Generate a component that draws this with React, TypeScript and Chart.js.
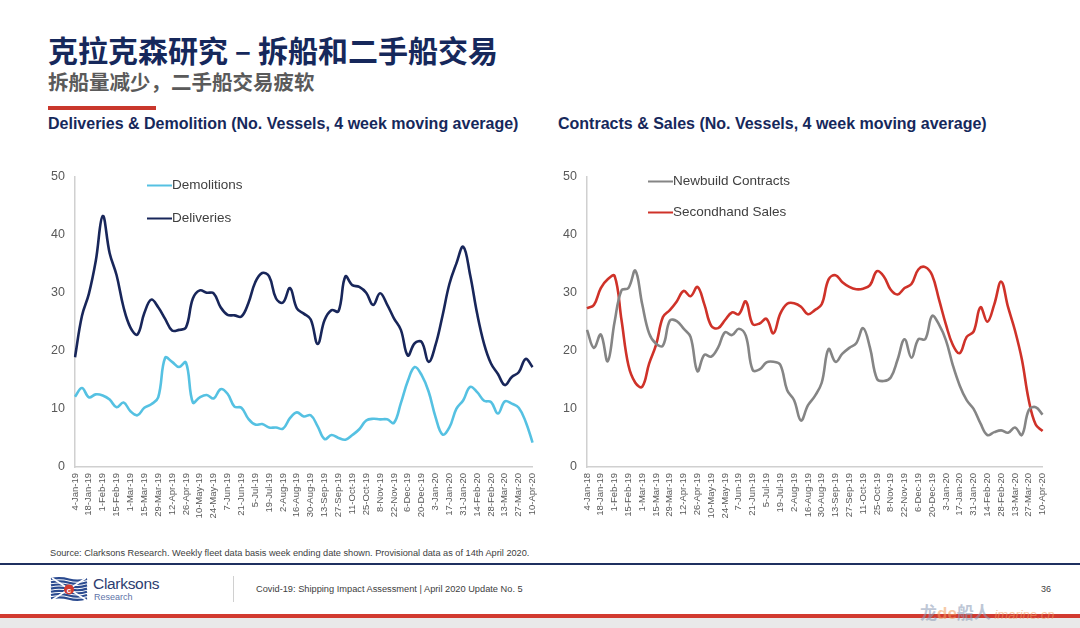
import { useEffect, useRef } from "react";
import { Chart, registerables } from "chart.js";

Chart.register(...registerables);

const LATIN = "'Liberation Sans', Arial, Helvetica, sans-serif";
const CJK = "'Noto Sans CJK SC', 'Noto Sans', sans-serif";

// Week-ending dates (weekly, Friday)
const weeks = [
  "4-Jan-19", "11-Jan-19", "18-Jan-19", "25-Jan-19", "1-Feb-19", "8-Feb-19", "15-Feb-19", "22-Feb-19",
  "1-Mar-19", "8-Mar-19", "15-Mar-19", "22-Mar-19", "29-Mar-19", "5-Apr-19", "12-Apr-19", "19-Apr-19",
  "26-Apr-19", "3-May-19", "10-May-19", "17-May-19", "24-May-19", "31-May-19", "7-Jun-19", "14-Jun-19",
  "21-Jun-19", "28-Jun-19", "5-Jul-19", "12-Jul-19", "19-Jul-19", "26-Jul-19", "2-Aug-19", "9-Aug-19",
  "16-Aug-19", "23-Aug-19", "30-Aug-19", "6-Sep-19", "13-Sep-19", "20-Sep-19", "27-Sep-19", "4-Oct-19",
  "11-Oct-19", "18-Oct-19", "25-Oct-19", "1-Nov-19", "8-Nov-19", "15-Nov-19", "22-Nov-19", "29-Nov-19",
  "6-Dec-19", "13-Dec-19", "20-Dec-19", "27-Dec-19", "3-Jan-20", "10-Jan-20", "17-Jan-20", "24-Jan-20",
  "31-Jan-20", "7-Feb-20", "14-Feb-20", "21-Feb-20", "28-Feb-20", "6-Mar-20", "13-Mar-20", "20-Mar-20",
  "27-Mar-20", "3-Apr-20", "10-Apr-20",
];
// The contracts chart carries its own first label
const contractWeeks = ["4-Jan-18", ...weeks.slice(1)];

const demolitions = [
  12.1, 13.6, 12.0, 12.5, 12.3, 11.6, 10.3, 11.1, 9.6, 8.9,
  10.2, 10.8, 12.0, 18.8, 18.1, 17.2, 18.0, 11.1, 12.0, 12.4,
  11.8, 13.4, 12.6, 10.4, 10.2, 8.3, 7.3, 7.4, 6.8, 6.8,
  6.6, 8.4, 9.4, 8.7, 8.9, 7.0, 4.8, 5.5, 5.0, 4.7,
  5.5, 6.5, 8.0, 8.3, 8.2, 8.2, 7.6, 11.0, 14.8, 17.2,
  15.8, 13.0, 8.6, 5.6, 6.8, 10.0, 11.5, 13.8, 12.9, 11.4,
  11.2, 9.2, 11.3, 10.9, 10.2, 7.8, 4.2,
];

const deliveries = [
  18.9, 26.0, 29.8, 35.5, 43.2, 36.8, 33.0, 27.5, 24.0, 22.8,
  26.5, 28.8, 27.5, 25.5, 23.5, 23.6, 24.0, 29.0, 30.4, 30.0,
  29.9, 27.5, 26.2, 26.1, 25.9, 28.2, 31.8, 33.4, 32.8, 29.0,
  28.3, 30.8, 27.3, 26.4, 25.4, 21.2, 25.3, 27.0, 26.8, 32.8,
  31.3, 31.0, 30.0, 27.9, 29.9, 28.0, 25.6, 23.6, 19.2, 21.3,
  21.5, 18.1, 21.0, 26.0, 31.5, 35.0, 37.9, 33.0, 26.4, 21.2,
  17.8, 16.0, 14.1, 15.5, 16.3, 18.6, 17.2,
];

const newbuildContracts = [
  23.6, 20.5, 22.8, 18.2, 25.0, 30.4, 30.8, 33.8, 28.0, 23.0,
  21.2, 20.9, 25.2, 25.1, 23.8, 22.4, 16.5, 19.3, 19.0, 20.6,
  23.2, 22.7, 23.8, 22.6, 16.7, 16.8, 18.0, 18.1, 17.6, 13.2,
  11.5, 8.0, 10.6, 12.2, 14.5, 20.3, 18.1, 19.5, 20.5, 21.3,
  23.9, 20.5, 15.2, 14.8, 15.4, 18.5, 22.0, 18.8, 22.0, 22.0,
  26.0, 24.5, 21.8, 17.5, 14.0, 11.5, 10.0, 7.5, 5.5, 6.0,
  6.3, 5.9, 6.8, 5.5, 9.8, 10.3, 9.0,
];

const secondhandSales = [
  27.3, 27.9, 30.8, 32.3, 32.9, 25.3, 17.5, 14.5, 13.8, 17.8,
  21.0, 25.8, 27.0, 28.5, 30.3, 29.4, 31.0, 28.0, 24.3, 23.9,
  25.3, 26.6, 26.3, 28.5, 24.6, 24.7, 25.5, 23.0, 26.4, 28.1,
  28.2, 27.6, 26.3, 27.0, 28.0, 32.3, 33.0, 31.8, 31.0, 30.6,
  30.7, 31.3, 33.7, 32.8, 30.5, 29.7, 30.8, 31.5, 34.0, 34.4,
  33.0, 28.8, 24.5, 21.0, 19.6, 22.4, 23.3, 27.5, 25.0, 28.0,
  31.9, 27.5, 23.5, 18.5, 11.5, 7.3, 6.2,
];

const yMax = 50;
const yStep = 10;

type Series = { label: string; data: number[]; color: string };

// Legend drawn inside the plot area, one row per series
const insideLegend = {
  id: "insideLegend",
  afterDraw(chart: any, _args: any, opts: any) {
    const { ctx, chartArea } = chart;
    ctx.save();
    ctx.font = `13.5px ${LATIN}`;
    ctx.textBaseline = "middle";
    ctx.textAlign = "left";
    (opts.rows || []).forEach((row: any) => {
      const ds = chart.data.datasets[row.index];
      const x = chartArea.left + opts.x;
      const y = chartArea.top + row.dy;
      ctx.strokeStyle = ds.borderColor;
      ctx.lineWidth = 2;
      ctx.beginPath();
      ctx.moveTo(x, y);
      ctx.lineTo(x + 25, y);
      ctx.stroke();
      ctx.fillStyle = "#404040";
      ctx.fillText(ds.label, x + 25, y);
    });
    ctx.restore();
  },
};

const CANVAS_TOP = 159;
const CANVAS_HEIGHT = 367;

function WeeklyChart(props: {
  labels: string[];
  series: Series[];
  legendX: number;
  legendRows: { index: number; dy: number }[];
  left: number;
  width: number;
  yAxisWidth: number;
}) {
  const ref = useRef<HTMLCanvasElement | null>(null);

  useEffect(() => {
    if (!ref.current) return;
    const chart = new Chart(ref.current, {
      type: "line",
      data: {
        labels: props.labels,
        datasets: props.series.map((s) => ({
          label: s.label,
          data: s.data,
          borderColor: s.color,
          backgroundColor: s.color,
          borderWidth: 2.6,
          pointRadius: 0,
          tension: 0.4,
          fill: false,
        })),
      },
      options: {
        animation: false,
        responsive: false,
        maintainAspectRatio: false,
        layout: { padding: { top: 3, right: 12, bottom: 0, left: 0 } },
        plugins: {
          legend: { display: false },
          tooltip: { enabled: false },
          insideLegend: { x: props.legendX, rows: props.legendRows },
        } as any,
        scales: {
          x: {
            grid: { display: true, drawOnChartArea: false, drawTicks: false },
            border: { display: true, color: "#d0d0d0", width: 1.5 },
            ticks: {
              autoSkip: false,
              minRotation: 90,
              maxRotation: 90,
              padding: 6,
              color: "#595959",
              font: { family: LATIN, size: 9.5 },
              callback: function (this: any, _v: any, i: number) {
                return i % 2 === 0 ? props.labels[i] : "";
              },
            },
            afterFit: (s: any) => {
              s.height = 59;
            },
          },
          y: {
            min: 0,
            max: yMax,
            grid: { display: true, drawOnChartArea: false, drawTicks: false },
            border: { display: true, color: "#d0d0d0", width: 1.5 },
            ticks: {
              stepSize: yStep,
              padding: 10,
              color: "#595959",
              font: { family: LATIN, size: 12.5 },
            },
            afterFit: (s: any) => {
              s.width = props.yAxisWidth;
            },
          },
        },
      },
      plugins: [insideLegend],
    });
    return () => chart.destroy();
  }, []);

  return (
    <canvas
      ref={ref}
      width={props.width}
      height={CANVAS_HEIGHT}
      style={{ position: "absolute", left: props.left, top: CANVAS_TOP, width: props.width, height: CANVAS_HEIGHT }}
    />
  );
}

function Logo() {
  return (
    <svg width="38" height="24" viewBox="0 0 38 24" style={{ position: "absolute", left: 50, top: 577 }}>
      {[0, 1, 2, 3, 4, 5, 6].map((i) => (
        <path
          key={i}
          d={`M1 ${2 + i * 3.2} Q10 ${0 + i * 3.2} 19 ${2.5 + i * 3.2} T37 ${2 + i * 3.2}`}
          stroke="#2a4a8f"
          strokeWidth="2.2"
          fill="none"
        />
      ))}
      <path d="M2 1 L36 23 M36 1 L2 23" stroke="#ffffff" strokeWidth="1.6" />
      <circle cx="19" cy="12.5" r="5" fill="#d23a2f" />
      <text x="19" y="15.5" fontSize="8" fontFamily={LATIN} fill="#ffffff" textAnchor="middle" fontWeight="bold">
        c
      </text>
    </svg>
  );
}

export default function App() {
  const text = (style: React.CSSProperties, content: string) => (
    <div style={{ position: "absolute", whiteSpace: "nowrap", ...style }}>{content}</div>
  );

  return (
    <div
      style={{
        position: "absolute",
        left: 0,
        top: 0,
        width: 1080,
        height: 628,
        background: "#ffffff",
        overflow: "hidden",
        fontFamily: LATIN,
      }}
    >
      {text(
        { left: 48, top: 29, fontFamily: CJK, fontWeight: 700, fontSize: 30, lineHeight: "40px", color: "#16285b" },
        "克拉克森研究 – 拆船和二手船交易"
      )}
      {text(
        { left: 48, top: 67, fontFamily: CJK, fontWeight: 700, fontSize: 20.5, lineHeight: "28px", color: "#5a5a5a" },
        "拆船量减少，二手船交易疲软"
      )}
      <div style={{ position: "absolute", left: 48, top: 106, width: 108, height: 4, background: "#c9372c" }} />
      {text(
        { left: 48, top: 114, fontWeight: 700, fontSize: 16, lineHeight: "20px", color: "#16285b" },
        "Deliveries & Demolition (No. Vessels, 4 week moving average)"
      )}
      {text(
        { left: 558, top: 114, fontWeight: 700, fontSize: 16, lineHeight: "20px", color: "#16285b" },
        "Contracts & Sales (No. Vessels, 4 week moving average)"
      )}

      <WeeklyChart
        labels={weeks}
        series={[
          { label: "Demolitions", data: demolitions, color: "#55c1e2" },
          { label: "Deliveries", data: deliveries, color: "#18265a" },
        ]}
        legendX={72}
        legendRows={[
          { index: 0, dy: 9 },
          { index: 1, dy: 42 },
        ]}
        left={20}
        width={530}
        yAxisWidth={55}
      />
      <WeeklyChart
        labels={contractWeeks}
        series={[
          { label: "Newbuild Contracts", data: newbuildContracts, color: "#858585" },
          { label: "Secondhand Sales", data: secondhandSales, color: "#cf3229" },
        ]}
        legendX={61}
        legendRows={[
          { index: 0, dy: 5 },
          { index: 1, dy: 36 },
        ]}
        left={530}
        width={530}
        yAxisWidth={57}
      />

      {text(
        { left: 50, top: 547, fontSize: 9.2, lineHeight: "12px", color: "#404040" },
        "Source: Clarksons Research. Weekly fleet data basis week ending date shown. Provisional data as of 14th April 2020."
      )}
      <div style={{ position: "absolute", left: 0, top: 563, width: 1080, height: 2, background: "#1f3060" }} />

      <Logo />
      {text({ left: 93, top: 575, fontSize: 15.5, lineHeight: "18px", color: "#2c3d70", letterSpacing: -0.3 }, "Clarksons")}
      {text({ left: 94, top: 592, fontSize: 9, lineHeight: "10px", color: "#5e73a8" }, "Research")}
      <div style={{ position: "absolute", left: 233, top: 576, width: 1, height: 26, background: "#d0d0d0" }} />
      {text(
        { left: 256, top: 583, fontSize: 9.25, lineHeight: "12px", color: "#404040" },
        "Covid-19: Shipping Impact Assessment | April 2020 Update No. 5"
      )}
      {text({ left: 1041, top: 583, fontSize: 9, lineHeight: "12px", color: "#404040" }, "36")}

      <div style={{ position: "absolute", left: 0, top: 614, width: 1080, height: 4, background: "#d23a30" }} />
      <div style={{ position: "absolute", left: 0, top: 618, width: 1080, height: 10, background: "#e9e9e9" }} />
      <div
        style={{
          position: "absolute",
          left: 920,
          top: 602,
          whiteSpace: "nowrap",
          fontSize: 17,
          lineHeight: "20px",
          opacity: 0.55,
        }}
      >
        <span style={{ fontFamily: CJK, color: "#8a9ab5", fontWeight: 700 }}>龙</span>
        <span style={{ fontFamily: LATIN, color: "#f0a060", fontWeight: 700 }}>de</span>
        <span style={{ fontFamily: CJK, color: "#8a9ab5", fontWeight: 700 }}>船人</span>
        <span style={{ fontFamily: LATIN, color: "#f0a060", fontStyle: "italic", fontSize: 13 }}> imarine.cn</span>
      </div>
    </div>
  );
}
